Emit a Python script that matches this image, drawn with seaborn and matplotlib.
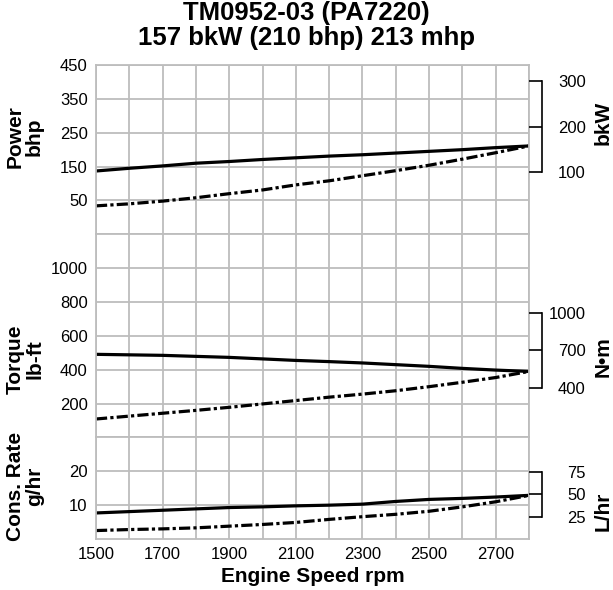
import numpy as np
import pandas as pd
import seaborn as sns
import matplotlib.pyplot as plt

# engine performance curves
rpm = [1500, 1600, 1700, 1800, 1900, 2000, 2100, 2200, 2300, 2400, 2500, 2600, 2700, 2800]

power_full = [137, 145, 152, 160, 165, 171, 176, 181, 185, 190, 195, 200, 206, 211]
power_part = [34, 40, 48, 58, 70, 81, 96, 108, 123, 138, 154, 172, 191, 211]

torque_full = [491, 488, 485, 479, 473, 464, 455, 448, 440, 430, 420, 408, 398, 390]
torque_part = [109, 126, 143, 160, 178, 198, 218, 238, 256, 276, 300, 326, 354, 390]

cons_full = [7.7, 8.1, 8.5, 8.9, 9.3, 9.5, 9.8, 10.0, 10.3, 11.1, 11.7, 12.0, 12.4, 12.9]
cons_part = [2.5, 2.8, 3.0, 3.3, 3.8, 4.3, 4.9, 5.8, 6.6, 7.3, 8.2, 9.5, 11.0, 12.9]

# unit conversions for the right-hand scales
bhp_per_kw = 1.341
nm_per_lbft = 1.3558
l_per_gal = 3.785

sections = [
    # (full, part, ylim, left ticks, right ticks, factor)
    (power_full, power_part, (-50, 450), [50, 150, 250, 350, 450], [100, 200, 300], 1 / bhp_per_kw),
    (torque_full, torque_part, (0, 1200), [200, 400, 600, 800, 1000], [400, 700, 1000], nm_per_lbft),
    (cons_full, cons_part, (0, 30), [10, 20], [25, 50, 75], l_per_gal),
]

sns.set_theme(style='white')
plt.rcParams['font.family'] = ['Liberation Sans', 'DejaVu Sans']
plt.rcParams['text.color'] = 'black'
plt.rcParams['axes.labelcolor'] = 'black'
plt.rcParams['xtick.color'] = 'black'
plt.rcParams['ytick.color'] = 'black'

grid_c = '#bdbdbd'
dash = (0, (3.5, 1.0, 1.0, 1.0))
tick_fs = 12
lab_fs = 15

fig, axes = plt.subplots(3, 1, sharex=True, figsize=(6.13, 5.90), dpi=100,
                         gridspec_kw=dict(height_ratios=[5, 6, 3], hspace=0))
fig.subplots_adjust(left=0.1566, right=0.863, top=0.8898, bottom=0.0864)

for ax, (full, part, ylim, lticks, rticks, fac) in zip(axes, sections):
    df = pd.DataFrame({'rpm': rpm, 'full': full, 'part': part})
    sns.lineplot(data=df, x='rpm', y='full', ax=ax, color='black', linewidth=2.3)
    sns.lineplot(data=df, x='rpm', y='part', ax=ax, color='black', linewidth=2.3, linestyle=dash)

    ax.set_xlim(1500, 2800)
    ax.set_ylim(*ylim)
    ax.set_xticks(range(1500, 2800, 200))
    ax.set_xticks(range(1500, 2801, 100), minor=True)
    ax.set_yticks(lticks)
    ax.grid(True, which='both', axis='x', color=grid_c, linewidth=1.3)
    ax.grid(True, which='major', axis='y', color=grid_c, linewidth=1.3)
    ax.tick_params(which='both', length=0, labelsize=tick_fs, pad=6)
    for s in ax.spines.values():
        s.set_color(grid_c)
        s.set_linewidth(1.3)
    ax.set_xlabel('')
    ax.set_ylabel('')

    # bracket scale on the right
    ax2 = ax.twinx()
    ax2.set_ylim(ylim[0] * fac, ylim[1] * fac)
    ax2.set_yticks(rticks)
    for side in ['left', 'top', 'bottom']:
        ax2.spines[side].set_visible(False)
    ax2.spines['right'].set_position(('outward', 9.4))
    ax2.spines['right'].set_bounds(rticks[0], rticks[-1])
    ax2.spines['right'].set_color('black')
    ax2.spines['right'].set_linewidth(1.2)
    ax2.tick_params(axis='y', direction='in', length=9.4, width=1.2, color='black',
                    labelsize=tick_fs, pad=31.5)
    for t in ax2.get_yticklabels():
        t.set_horizontalalignment('right')
    ax2.grid(False)

axes[2].set_xlabel('Engine Speed rpm', fontsize=lab_fs, fontweight='bold', labelpad=3)

lab = dict(fontsize=lab_fs, fontweight='bold', rotation=90, ha='center', va='center', linespacing=1.0)
fig.text(25 / 613, 1 - 137 / 590, 'Power\nbhp', **lab)
fig.text(25 / 613, 1 - 359 / 590, 'Torque\nlb-ft', **lab)
fig.text(25 / 613, 1 - 486 / 590, 'Cons. Rate\ng/hr', **lab)
fig.text(603 / 613, 1 - 123 / 590, 'bkW', **lab)
fig.text(603 / 613, 1 - 357 / 590, 'N•m', **lab)
fig.text(603 / 613, 1 - 511 / 590, 'L/hr', **lab)

fig.suptitle('TM0952-03 (PA7220)\n157 bkW (210 bhp) 213 mhp', x=0.5, y=1 - 1 / 590,
             ha='center', va='top', fontsize=18.5, fontweight='bold', linespacing=1.05)

plt.savefig('out.png', dpi=100)
